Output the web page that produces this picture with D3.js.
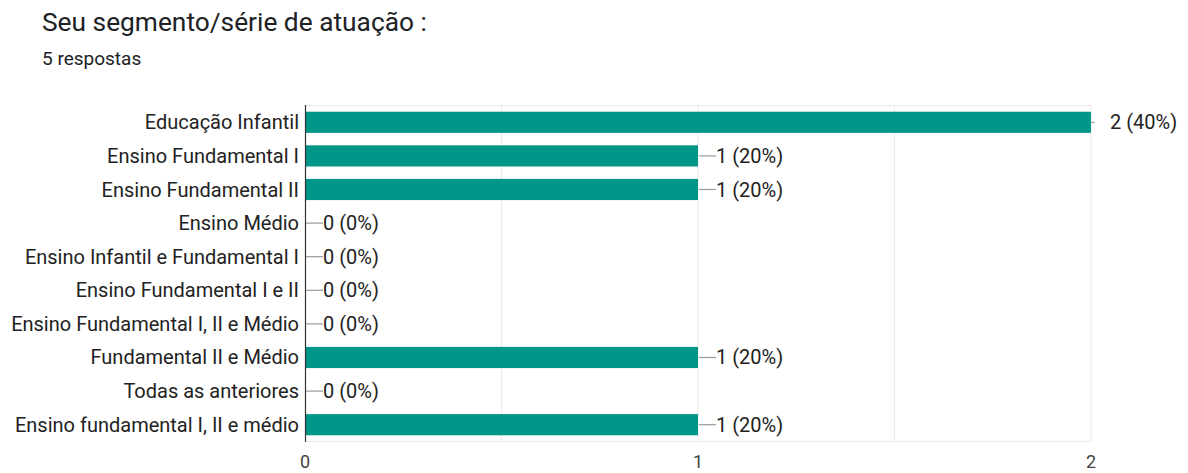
<!DOCTYPE html>
<html><head><meta charset="utf-8">
<script src="https://cdn.jsdelivr.net/npm/d3@7/dist/d3.min.js"></script>
<style>body{margin:0;background:#fff;}svg{display:block;}</style>
</head><body>
<script>
const categories = ["Educação Infantil","Ensino Fundamental I","Ensino Fundamental II","Ensino Médio","Ensino Infantil e Fundamental I","Ensino Fundamental I e II","Ensino Fundamental I, II e Médio","Fundamental II e Médio","Todas as anteriores","Ensino fundamental I, II e médio"];
const values = [2,1,1,0,0,0,0,1,0,1];
const percents = ["40%","20%","20%","0%","0%","0%","0%","20%","0%","20%"];
const xTicks = [0,1,2];
const gridTicks = [0.5,1,1.5,2];

const W=1188,H=473;
const svg=d3.select("body").append("svg").attr("width",W).attr("height",H);
const L=305,R=1091,T=105,B=442;
const x=d3.scaleLinear().domain([0,2]).range([L,R]);
const y=d3.scaleBand().domain(categories).range([T,B]).paddingInner(0.37).paddingOuter(0.2);
const FONT="Roboto, Arial, sans-serif";
const FS=20;

svg.append("text").attr("x",42).attr("y",31).text("Seu segmento/série de atuação :")
  .attr("font-family",FONT).attr("font-size",26.3).attr("fill","#202124");
svg.append("text").attr("x",42).attr("y",65).text("5 respostas")
  .attr("font-family",FONT).attr("font-size",19).attr("fill","#202124");

const g=svg.append("g");
g.selectAll(".grid").data(gridTicks).join("line")
 .attr("x1",d=>x(d)).attr("x2",d=>x(d)).attr("y1",T).attr("y2",B)
 .attr("stroke","#ebebeb").attr("stroke-width",1);
g.append("line").attr("x1",L).attr("x2",R).attr("y1",T+0.5).attr("y2",T+0.5).attr("stroke","#ebebeb");
g.append("line").attr("x1",L).attr("x2",R).attr("y1",B-0.5).attr("y2",B-0.5).attr("stroke","#ebebeb");

g.selectAll(".bar").data(values).join("rect")
 .attr("x",x(0)).attr("y",(d,i)=>y(categories[i]))
 .attr("width",d=>x(d)-x(0)).attr("height",y.bandwidth())
 .attr("fill","#009688");

g.append("line").attr("x1",L+0.5).attr("x2",L+0.5).attr("y1",T).attr("y2",B).attr("stroke","#333").attr("stroke-width",1.2);

g.selectAll(".cat").data(categories).join("text")
 .attr("x",L-6).attr("y",d=>y(d)+y.bandwidth()/2).attr("dy","0.35em")
 .attr("text-anchor","end").text(d=>d)
 .attr("font-family",FONT).attr("font-size",FS).attr("fill","#222");

values.forEach((v,i)=>{
  const cy=y(categories[i])+y.bandwidth()/2;
  const x0=x(v);
  if(v===2){
    g.append("line").attr("x1",x0).attr("x2",x0+4).attr("y1",cy).attr("y2",cy).attr("stroke","#999");
    g.append("text").attr("x",x0+19).attr("y",cy).attr("dy","0.35em").text(v+" ("+percents[i]+")")
     .attr("font-family",FONT).attr("font-size",FS).attr("fill","#222");
  } else {
    g.append("line").attr("x1",x0+1).attr("x2",x0+18).attr("y1",cy).attr("y2",cy).attr("stroke","#999").attr("stroke-width",1.2);
    g.append("text").attr("x",x0+18).attr("y",cy).attr("dy","0.35em").text(v+" ("+percents[i]+")")
     .attr("font-family",FONT).attr("font-size",FS).attr("fill","#222");
  }
});

g.selectAll(".xt").data(xTicks).join("text")
 .attr("x",d=>x(d)).attr("y",468).attr("text-anchor","middle").text(d=>d)
 .attr("font-family",FONT).attr("font-size",18).attr("fill","#444");
</script>
</body></html>
